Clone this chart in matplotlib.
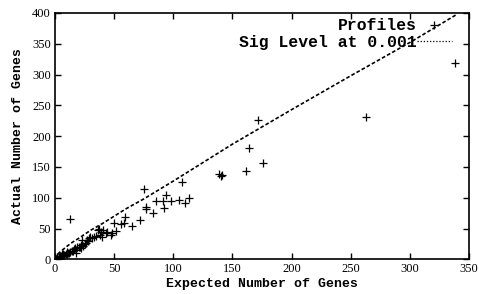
import matplotlib
matplotlib.use("Agg")
import matplotlib.pyplot as plt

# Observed profiles: expected vs actual number of genes
expected = [0.5, 1, 1.5, 2, 2, 3, 3, 4, 4, 5, 5, 6, 6, 7, 7, 8, 9, 10, 10, 11,
            12, 13, 14, 15, 16, 17, 17.8, 18, 19, 20, 21, 22, 22, 23, 24, 25, 26,
            27, 28, 29, 30, 31, 33, 35, 36, 37, 38, 39, 40, 41, 43, 44, 47, 48,
            50, 52, 56, 58, 59, 65, 72, 75, 77, 77, 83, 85, 91, 92, 94, 98, 105,
            107, 110, 113, 13, 139, 140, 141, 161.5, 164, 172, 176, 263, 338]
actual = [0.5, 1, 2, 1, 3, 2, 4, 3, 5, 4, 6, 5, 8, 6, 9, 7, 8, 9, 12, 10,
          11, 12, 14, 14, 16, 18, 10.7, 15, 20, 20.5, 19.5, 23, 18, 31, 22, 25, 27,
          32, 30, 34, 36, 35, 37, 38, 48, 50, 40, 45, 36, 47, 42, 44, 40, 42,
          59, 46, 57, 59, 68, 54, 64, 114, 85, 81, 75, 95, 95, 83, 105, 95, 97,
          125, 92, 100, 65, 138, 136, 137, 144, 180, 226, 156, 231, 319]

# Significance level curve
sig_x = [0, 2, 5, 10, 15, 20, 30, 40, 50, 60, 75, 100, 125, 150, 175, 200, 250, 300, 340]
sig_y = [0, 8, 13, 21, 28, 34, 47, 58, 70, 82, 98, 127, 157, 187, 215, 243, 298, 352, 398]

xticks = [0, 50, 100, 150, 200, 250, 300, 350]
yticks = [0, 50, 100, 150, 200, 250, 300, 350, 400]

fig = plt.figure(figsize=(4.79, 2.94), dpi=100)
ax = fig.add_axes([0.1148, 0.118, 0.979 - 0.1148, 0.9558 - 0.118])

ax.plot(expected, actual, linestyle="none", marker="+", color="black",
        markersize=5.5, markeredgewidth=0.9, label="Profiles")
ax.plot(sig_x, sig_y, linestyle=(0, (2.2, 1.3)), color="black", linewidth=1.2,
        label="Sig Level at 0.001")

ax.set_xlim(0, 350)
ax.set_ylim(0, 400)
ax.set_xticks(xticks)
ax.set_yticks(yticks)
ax.set_xticklabels([str(t) for t in xticks], fontfamily="Liberation Serif", fontsize=9)
ax.set_yticklabels([str(t) for t in yticks], fontfamily="Liberation Serif", fontsize=9)
ax.tick_params(direction="in", length=4, width=1, top=True, right=True, pad=3)
for s in ax.spines.values():
    s.set_linewidth(1.2)

ax.set_xlabel("Expected Number of Genes", fontfamily="Liberation Mono",
              fontweight="bold", fontsize=9.5, labelpad=2)
ax.set_ylabel("Actual Number of Genes", fontfamily="Liberation Mono",
              fontweight="bold", fontsize=9.5, labelpad=6)

leg = ax.legend(loc="upper right", bbox_to_anchor=(0.962, 0.985), frameon=False,
                markerfirst=False,
                prop={"family": "Liberation Mono", "weight": "bold", "size": 11.8},
                handlelength=2.1, handletextpad=0.0, labelspacing=0.1,
                borderaxespad=0.0, borderpad=0.1, numpoints=1)
for col in leg._legend_handle_box.get_children():
    col.align = "right"
leg.get_lines()[1].set_linestyle((0, (1, 1.5)))
leg.get_lines()[1].set_linewidth(0.9)

fig.savefig("out.png", dpi=100)
